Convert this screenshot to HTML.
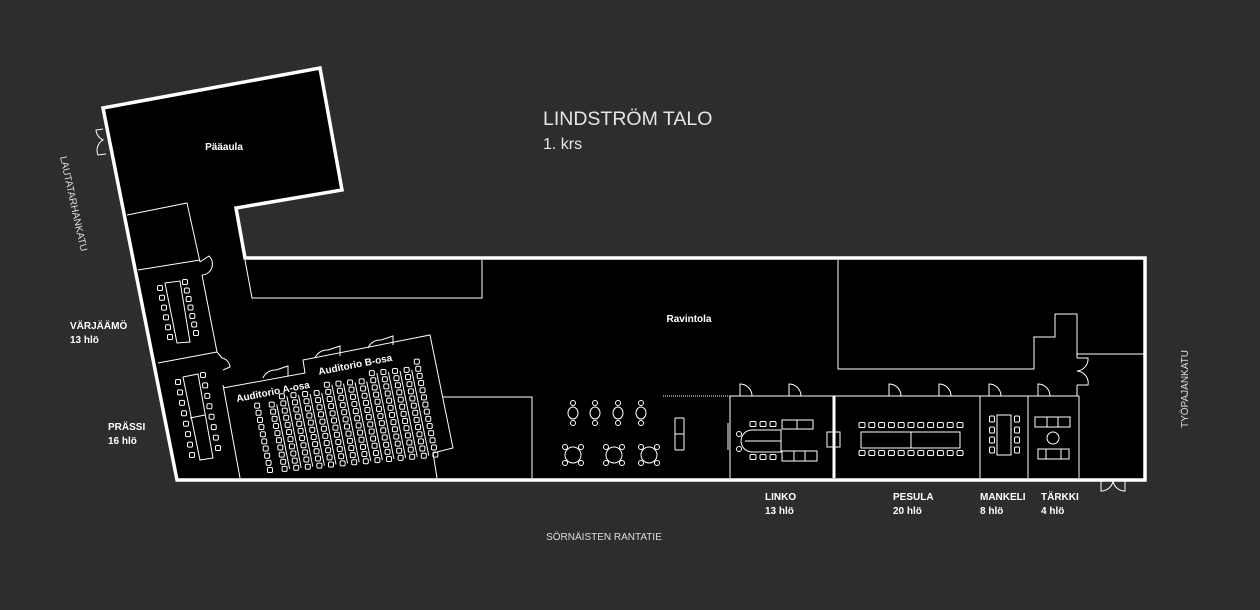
<!DOCTYPE html>
<html><head><meta charset="utf-8"><style>
html,body{margin:0;padding:0;background:#2d2d2d;width:1260px;height:610px;overflow:hidden}
svg{display:block}
text{font-family:"Liberation Sans",sans-serif}
.b{font-weight:bold;fill:#fff;font-size:10px}
</style></head><body>
<svg id="s" width="1260" height="610" viewBox="0 0 1260 610">
<rect width="1260" height="610" fill="#2d2d2d"/>
<polygon points="103,108 320,68 342,190 236,208 245,258 1145,258 1145,480 177,480" fill="#000" stroke="#fff" stroke-width="3.5" stroke-linejoin="miter"/>
<g fill="none" stroke="#fff" stroke-width="1">
<polyline points="127,215 187,203 200,262"/>
<polyline points="202,275 217,352"/>
<polyline points="223,385 240,478"/>
<line x1="138" y1="270" x2="200" y2="260"/>
<line x1="158" y1="363" x2="217" y2="352"/>
<polyline points="223,388 305,373 303,360 430,335 453,448 433,453 437,478"/>
<polyline points="443,397 532,397 532,478"/>
<polyline points="245,260 252,298 482,298 482,260"/>
<polyline points="838,260 838,369 1034,369 1034,337 1055,337 1055,314 1077,314 1077,358"/>
<line x1="1077" y1="385" x2="1077" y2="396"/>
<line x1="1077" y1="354" x2="1144" y2="354"/>
<line x1="663" y1="396" x2="730" y2="396" stroke-dasharray="1,1"/>
<line x1="730" y1="396" x2="1079" y2="396"/>
<line x1="730" y1="396" x2="730" y2="478"/>
<line x1="834" y1="396" x2="834" y2="478" stroke-width="3"/>
<line x1="980" y1="396" x2="980" y2="478"/>
<line x1="1028" y1="396" x2="1028" y2="478"/>
<line x1="1079" y1="396" x2="1079" y2="478"/>
<path d="M740,396 V384 A12,12 0 0 1 752,396"/>
<path d="M789,396 V384 A12,12 0 0 1 801,396"/>
<path d="M889,396 V384 A12,12 0 0 1 901,396"/>
<path d="M939,396 V384 A12,12 0 0 1 951,396"/>
<path d="M989,396 V384 A12,12 0 0 1 1001,396"/>
<path d="M1038,396 V384 A12,12 0 0 1 1050,396"/>
<path d="M1077,358 H1088 A12,12 0 0 1 1077,371 A12,12 0 0 1 1088,385 H1077"/>
<path d="M1101,481 V491 A12,12 0 0 0 1113,481 A12,12 0 0 0 1125,491 V481"/>
<path d="M103,129 L96,130 A12,12 0 0 0 103,140 A12,12 0 0 0 98,155 L106,154"/>
<path d="M200,262 L209,256 A11,11 0 0 1 202,275"/>
<path d="M217,352 L222,358 A10,10 0 0 1 230,367 L223,370"/>
<path d="M263,378 A13,13 0 0 1 276,370 L288,366 L288,376"/>
<path d="M315,358 A13,13 0 0 1 328,350 L340,346 L340,356"/>
<path d="M368,348 A13,13 0 0 1 381,340 L393,336 L393,345"/>
<g id="bistro"></g>
<rect x="675" y="418" width="9" height="32" rx="1"/>
<line x1="675" y1="434" x2="684" y2="434"/>
<line x1="728" y1="423" x2="728" y2="450"/>
<path d="M781,430 H752 A11,11 0 0 0 752,452 H781 Z"/>
<line x1="745" y1="441" x2="781" y2="441"/>
<rect x="782" y="420" width="31" height="9"/><line x1="797" y1="420" x2="797" y2="429"/>
<rect x="782" y="451" width="35" height="10"/><line x1="794" y1="451" x2="794" y2="461"/><line x1="805" y1="451" x2="805" y2="461"/>
<rect x="827" y="432" width="13" height="15"/><line x1="833" y1="427" x2="833" y2="452"/>
<rect x="861" y="432" width="99" height="16"/><line x1="911" y1="432" x2="911" y2="448"/>
<rect x="997" y="415" width="14" height="40"/>
<rect x="1035" y="417" width="35" height="10"/><line x1="1047" y1="417" x2="1047" y2="427"/><line x1="1058" y1="417" x2="1058" y2="427"/>
<circle cx="1053" cy="438" r="6"/>
<rect x="1038" y="449" width="31" height="10"/><line x1="1046" y1="449" x2="1046" y2="459"/><line x1="1061" y1="449" x2="1061" y2="459"/>
<polygon points="165,283 180,281 190,342 177,343"/>
<polygon points="183,377 198,374 213,458 200,460"/>
<line x1="190" y1="418" x2="205" y2="415"/>
<g id="ch"></g>
</g>
<text class="b" x="224" y="150" text-anchor="middle">Pääaula</text>
<text class="b" x="689" y="322" text-anchor="middle">Ravintola</text>
<text x="543" y="125" fill="#e6e6e6" font-size="19.5" font-weight="300">LINDSTRÖM TALO</text>
<text x="543" y="149" fill="#e6e6e6" font-size="16">1. krs</text>
<text class="b" x="70" y="329">VÄRJÄÄMÖ</text><text class="b" x="70" y="343">13 hlö</text>
<text class="b" x="108" y="430">PRÄSSI</text><text class="b" x="108" y="444">16 hlö</text>
<text class="b" x="765" y="500">LINKO</text><text class="b" x="765" y="514">13 hlö</text>
<text class="b" x="893" y="500">PESULA</text><text class="b" x="893" y="514">20 hlö</text>
<text class="b" x="980" y="500">MANKELI</text><text class="b" x="980" y="514">8 hlö</text>
<text class="b" x="1041" y="500">TÄRKKI</text><text class="b" x="1041" y="514">4 hlö</text>
<text x="604" y="540" fill="#ddd" font-size="10" text-anchor="middle">SÖRNÄISTEN RANTATIE</text>
<text fill="#ddd" font-size="10" transform="translate(60,157) rotate(77.6)">LAUTATARHANKATU</text>
<text fill="#ddd" font-size="10" transform="translate(1188,428) rotate(-90)">TYÖPAJANKATU</text>
<text class="b" font-size="9" transform="translate(237,402) rotate(-11)">Auditorio A-osa</text>
<text class="b" font-size="9" transform="translate(319,375) rotate(-11)">Auditorio B-osa</text>
</svg>
<script>
var NS="http://www.w3.org/2000/svg";
var g=document.getElementById("ch"),bs=document.getElementById("bistro");
function r(x,y,w,h,p){var e=document.createElementNS(NS,"rect");e.setAttribute("x",x-w/2);e.setAttribute("y",y-h/2);e.setAttribute("width",w);e.setAttribute("height",h);e.setAttribute("rx",1.3);(p||g).appendChild(e);}
function c(x,y,rx,ry,p){var e=document.createElementNS(NS,"ellipse");e.setAttribute("cx",x);e.setAttribute("cy",y);e.setAttribute("rx",rx);e.setAttribute("ry",ry);(p||g).appendChild(e);}
function col(x0,y0,x1,y1,n){for(var i=0;i<n;i++){var t=n>1?i/(n-1):0;r(x0+(x1-x0)*t,y0+(y1-y0)*t,5,5);}}
for(var i=0;i<15;i++){var bx=273+i*11.6,by=470-i*1.1,n=10+Math.round(i*0.25);if(i==0){bx=270;}
 var tx=bx-0.196*7.3*(n-1),ty=by-0.98*7.3*(n-1);col(tx,ty,bx,by,n);
 if(i>0&&i<14){var l=document.createElementNS(NS,"line");l.setAttribute("x1",tx+5);l.setAttribute("y1",ty);l.setAttribute("x2",bx+5);l.setAttribute("y2",by);g.appendChild(l);}}
col(160,288,170,337,6);col(185,282,196,333,7);
col(178,382,192,455,8);col(203,375,218,448,8);
[753,763,773].forEach(function(x){r(x,424,6,5);r(x,457,6,5);});
c(739,434,2.5,2.5);c(739,449,2.5,2.5);
for(var k=0;k<11;k++){var x=862+k*9.8;r(x,425,6,5);r(x,453,6,5);}
[419,430,440,450].forEach(function(y){r(992,y,5,6);r(1017,y,5,6);});
[573,595,618,641].forEach(function(x){c(x,403,2.5,2.5,bs);c(x,413,5,6,bs);c(x,423,2.5,2.5,bs);});
[573,614,649].forEach(function(x){c(x,455,8,8,bs);[[-8,-8],[8,-8],[-8,8],[8,8]].forEach(function(d){c(x+d[0],455+d[1],2.5,2.5,bs);});});
</script>
</body></html>
